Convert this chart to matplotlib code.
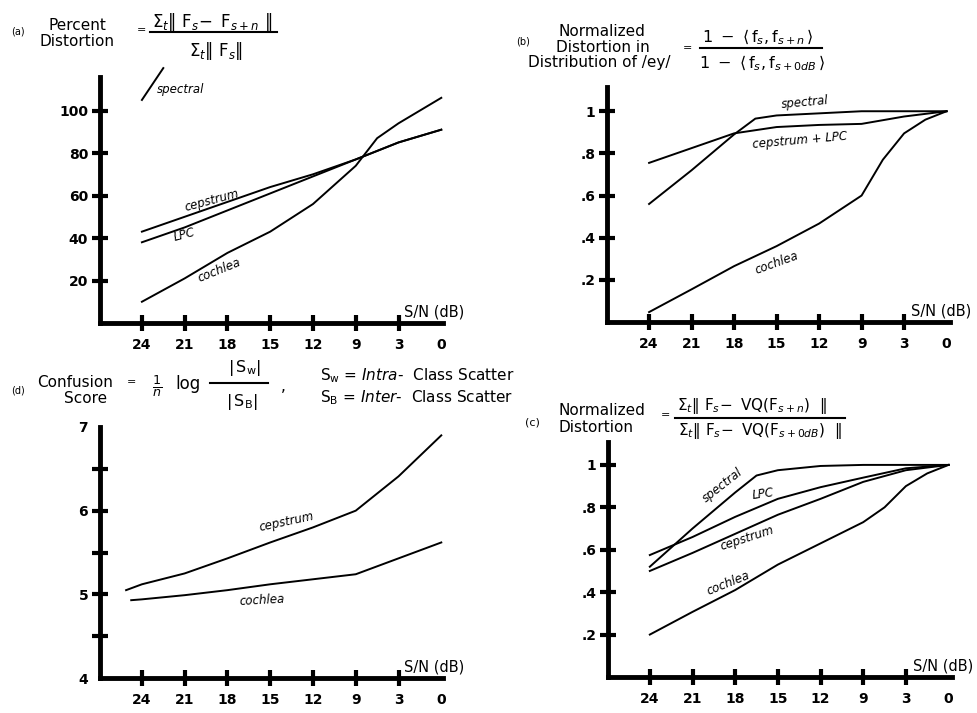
import numpy as np
import matplotlib.pyplot as plt
from matplotlib.lines import Line2D

plt.rcParams['font.family'] = ['DejaVu Sans']
plt.rcParams['mathtext.fontset'] = 'dejavusans'

W, H = 977, 713

# S/N (dB) categories, equally spaced on the axis
sn_labels = ['24', '21', '18', '15', '12', '9', '3', '0']
sn_pos = [0, 1, 2, 3, 4, 5, 6, 7]

# (a) percent distortion
a_x = [0, 1, 2, 3, 4, 5, 6, 7]
a_cepstrum = [43, 50, 57, 64, 70, 77, 85, 91]
a_lpc = [38, 45, 53, 61, 69, 77, 85, 91]
a_coch_x = [0, 1, 2, 3, 4, 5, 5.5, 6, 6.5, 7]
a_cochlea = [10, 21, 33, 43, 56, 74, 87, 94, 100, 106]
a_spec_x = [0, 0.5]
a_spectral = [105, 120]

# (b) normalized distortion in distribution of /ey/
b_spec_x = [0, 1, 2, 2.5, 3, 4, 5, 6, 7]
b_spectral = [0.56, 0.72, 0.89, 0.965, 0.98, 0.99, 1.0, 1.0, 1.0]
b_x = [0, 1, 2, 3, 4, 5, 6, 7]
b_ceplpc = [0.755, 0.825, 0.895, 0.925, 0.935, 0.94, 0.975, 1.0]
b_coch_x = [0, 1, 2, 3, 4, 5, 5.5, 6, 6.5, 7]
b_cochlea = [0.047, 0.155, 0.265, 0.36, 0.467, 0.6, 0.77, 0.895, 0.96, 1.0]

# (c) normalized VQ distortion
c_spec_x = [0, 1, 2, 2.5, 3, 4, 5, 6, 7]
c_spectral = [0.52, 0.70, 0.87, 0.95, 0.975, 0.995, 1.0, 1.0, 1.0]
c_x = [0, 1, 2, 3, 4, 5, 6, 7]
c_lpc = [0.575, 0.66, 0.755, 0.84, 0.895, 0.94, 0.984, 1.0]
c_cepstrum = [0.50, 0.585, 0.675, 0.765, 0.84, 0.92, 0.975, 1.0]
c_coch_x = [0, 1, 2, 3, 4, 5, 5.5, 6, 6.5, 7]
c_cochlea = [0.2, 0.307, 0.41, 0.53, 0.63, 0.73, 0.80, 0.9, 0.96, 1.0]

# (d) confusion score
d_cep_x = [-0.37, 0, 1, 2, 3, 4, 5, 6, 7]
d_cepstrum = [5.05, 5.12, 5.25, 5.43, 5.62, 5.8, 6.0, 6.41, 6.9]
d_coch_x = [-0.25, 0, 1, 2, 3, 4, 5, 6, 7]
d_cochlea = [4.93, 4.94, 4.99, 5.05, 5.12, 5.18, 5.24, 5.43, 5.62]

fig = plt.figure(figsize=(W / 100, H / 100), dpi=100)


def box(left, top, right, bottom):
    return [left / W, 1 - bottom / H, (right - left) / W, (bottom - top) / H]


def ftext(x, y, s, **kw):
    kw.setdefault('va', 'center')
    kw.setdefault('ha', 'center')
    fig.text(x / W, 1 - y / H, s, **kw)


def fbar(x0, x1, y):
    fig.add_artist(Line2D([x0 / W, x1 / W], [1 - y / H, 1 - y / H],
                          transform=fig.transFigure, color='k', lw=1.5))


def setup(ax, xlim, ylim, yticks, ylabels):
    ax.set_xlim(xlim)
    ax.set_ylim(ylim)
    ax.patch.set_visible(False)
    for s in ['top', 'right']:
        ax.spines[s].set_visible(False)
    for s in ['left', 'bottom']:
        ax.spines[s].set_linewidth(3.5)
    ax.set_xticks(sn_pos)
    ax.set_xticklabels(sn_labels)
    ax.xaxis.get_major_ticks()[-1].tick1line.set_visible(False)
    ax.set_yticks(yticks)
    ax.set_yticklabels(ylabels)
    ax.tick_params(direction='inout', length=11, width=3, labelsize=10)
    ax.tick_params(axis='x', pad=5)
    ax.tick_params(axis='y', pad=3)
    for lab in ax.get_xticklabels() + ax.get_yticklabels():
        lab.set_fontweight('bold')
    ax.text(0.975, 0.045, 'S/N (dB)', transform=ax.transAxes, ha='center',
            va='center', fontsize=10.5)


lw = 1.4
lab = dict(fontsize=8.5, fontstyle='italic', ha='center', va='center')
tfs = 11  # title font size

# ---- (a)
ax = fig.add_axes(box(100, 77, 443, 323))
setup(ax, (-0.98, 7.04), (0, 115.8), [20, 40, 60, 80, 100],
      ['20', '40', '60', '80', '100'])
ax.plot(a_x, a_cepstrum, 'k', lw=lw)
ax.plot(a_x, a_lpc, 'k', lw=lw)
ax.plot(a_coch_x, a_cochlea, 'k', lw=lw)
ax.plot(a_spec_x, a_spectral, 'k', lw=lw, clip_on=False)
ax.text(1.64, 57.5, 'cepstrum', rotation=15, **lab)
ax.text(1.0, 41.5, 'LPC', rotation=15, **lab)
ax.text(1.8, 25, 'cochlea', rotation=22, **lab)
ax.text(0.36, 110, 'spectral', fontsize=8.5, fontstyle='italic', ha='left', va='center')

ftext(18, 32, '(a)', fontsize=7)
ftext(77, 25, 'Percent', fontsize=tfs)
ftext(77, 42, 'Distortion', fontsize=tfs)
ftext(142, 30, '=', fontsize=8)
ftext(212, 22, r'$\Sigma_t\|\ \mathrm{F}_s\!-\ \mathrm{F}_{s+n}\ \|$', fontsize=12)
fbar(150, 277, 32)
ftext(216, 51, r'$\Sigma_t\|\ \mathrm{F}_s\|$', fontsize=12)

# ---- (b)
ax = fig.add_axes(box(607, 87, 950, 322))
setup(ax, (-0.99, 7.08), (0, 1.115), [0.2, 0.4, 0.6, 0.8, 1.0],
      ['.2', '.4', '.6', '.8', '1'])
ax.plot(b_spec_x, b_spectral, 'k', lw=lw)
ax.plot(b_x, b_ceplpc, 'k', lw=lw)
ax.plot(b_coch_x, b_cochlea, 'k', lw=lw)
ax.text(3.67, 1.04, 'spectral', rotation=5, **lab)
ax.text(3.55, 0.86, 'cepstrum + LPC', rotation=5, **lab)
ax.text(3.0, 0.28, 'cochlea', rotation=20, **lab)

ftext(523, 42, '(b)', fontsize=7)
ftext(602, 31, 'Normalized', fontsize=tfs)
ftext(603, 47, 'Distortion in', fontsize=tfs)
ftext(599, 63, 'Distribution of /ey/', fontsize=tfs)
ftext(687, 48, '=', fontsize=8)
ftext(758, 37, r'$1\ -\ \langle\,\mathrm{f}_s,\mathrm{f}_{s+n}\,\rangle$', fontsize=11.5)
fbar(700, 822, 48)
ftext(762, 63, r'$1\ -\ \langle\,\mathrm{f}_s,\mathrm{f}_{s+0dB}\,\rangle$', fontsize=11.5)

# ---- (c)
ax = fig.add_axes(box(608, 442, 952, 677))
setup(ax, (-0.98, 7.08), (0, 1.108), [0.2, 0.4, 0.6, 0.8, 1.0],
      ['.2', '.4', '.6', '.8', '1'])
ax.plot(c_spec_x, c_spectral, 'k', lw=lw)
ax.plot(c_x, c_lpc, 'k', lw=lw)
ax.plot(c_x, c_cepstrum, 'k', lw=lw)
ax.plot(c_coch_x, c_cochlea, 'k', lw=lw)
ax.text(1.71, 0.905, 'spectral', rotation=38, **lab)
ax.text(2.65, 0.865, 'LPC', rotation=8, **lab)
ax.text(2.27, 0.655, 'cepstrum', rotation=18, **lab)
ax.text(1.83, 0.443, 'cochlea', rotation=22, **lab)

ftext(532, 423, '(c)', fontsize=8)
ftext(559, 411, 'Normalized', fontsize=tfs, ha='left')
ftext(559, 428, 'Distortion', fontsize=tfs, ha='left')
ftext(665, 415, '=', fontsize=8)
ftext(752, 406, r'$\Sigma_t\|\ \mathrm{F}_s\!-\ \mathrm{VQ}(\mathrm{F}_{s+n})\ \ \|$', fontsize=11)
fbar(675, 845, 418)
ftext(760, 431, r'$\Sigma_t\|\ \mathrm{F}_s\!-\ \mathrm{VQ}(\mathrm{F}_{s+0dB})\ \ \|$', fontsize=11)

# ---- (d)
ax = fig.add_axes(box(100, 427, 443, 678))
setup(ax, (-0.98, 7.04), (4, 7), [4, 4.5, 5, 5.5, 6, 6.5, 7],
      ['4', '', '5', '', '6', '', '7'])
yt = ax.yaxis.get_major_ticks()
yt[0].tick1line.set_visible(False)
yt[-1].tick1line.set_visible(False)
ax.plot(d_cep_x, d_cepstrum, 'k', lw=lw)
ax.plot(d_coch_x, d_cochlea, 'k', lw=lw)
ax.text(3.39, 5.87, 'cepstrum', rotation=12, **lab)
ax.text(2.81, 4.93, 'cochlea', rotation=3, **lab)

ftext(18, 390, '(d)', fontsize=7)
ftext(75, 382, 'Confusion', fontsize=tfs)
ftext(86, 398, 'Score', fontsize=tfs)
ftext(132, 382, '=', fontsize=8)
ftext(157, 386, r'$\frac{1}{n}$', fontsize=13)
ftext(188, 384, 'log', fontsize=12)
ftext(245, 368, r'$|\,\mathrm{S}_\mathrm{w}|$', fontsize=11.5)
fbar(210, 268, 383)
ftext(242, 402, r'$|\,\mathrm{S}_\mathrm{B}|$', fontsize=11.5)
ftext(283, 387, ',', fontsize=11)
ftext(320, 376, r'S$_\mathrm{w}$ = $\mathit{Intra}$-  Class Scatter', fontsize=tfs, ha='left')
ftext(320, 398, r'S$_\mathrm{B}$ = $\mathit{Inter}$-  Class Scatter', fontsize=tfs, ha='left')

fig.savefig('out.png', dpi=100)
